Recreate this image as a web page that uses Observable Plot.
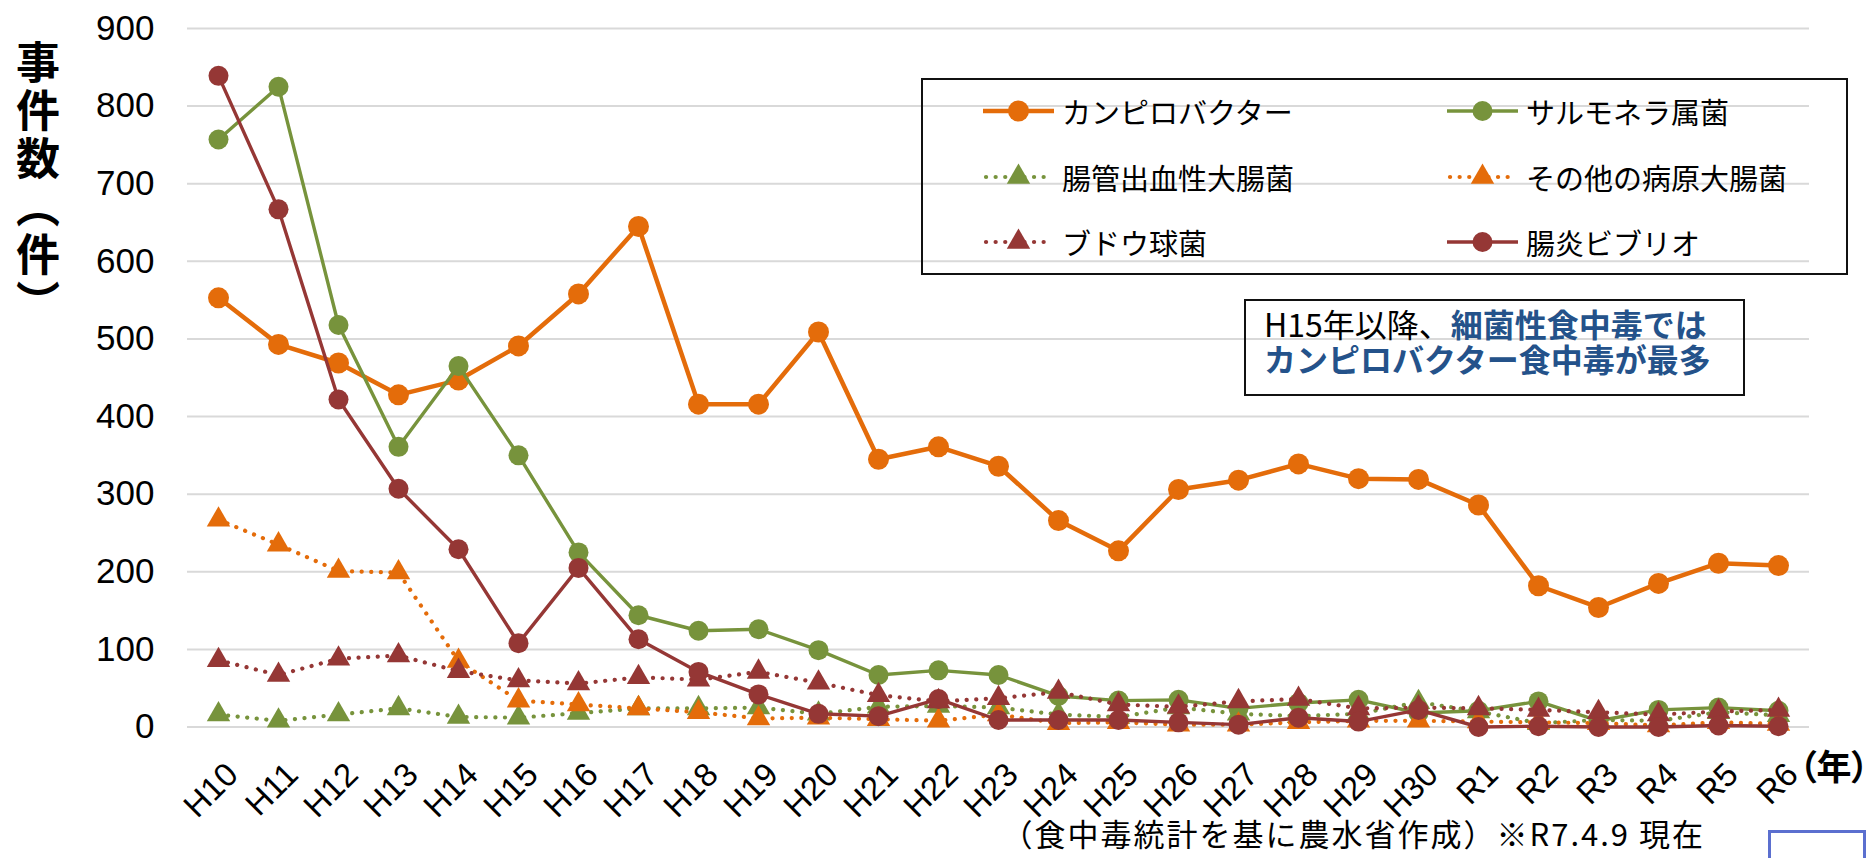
<!DOCTYPE html>
<html>
<head>
<meta charset="utf-8">
<script src="https://cdn.jsdelivr.net/npm/d3@7"></script>
<script src="https://cdn.jsdelivr.net/npm/@observablehq/plot@0.6"></script>
<style>
  html, body { margin: 0; padding: 0; background: #fff; }
  #wrap { position: relative; width: 1873px; height: 858px; overflow: hidden; font-family: "Noto Sans CJK JP", "Noto Sans", sans-serif; color: #000; }
  #chart { position: absolute; left: 0; top: 0; }
  .ytitle { position: absolute; left: 14px; top: 40px; writing-mode: vertical-rl; font-size: 44px; font-weight: bold; letter-spacing: 4px; line-height: 48px; }
  .legendbox { position: absolute; left: 921px; top: 78px; width: 927px; height: 197px; border: 2px solid #111; box-sizing: border-box; }
  .litem { position: absolute; height: 40px; display: flex; align-items: center; font-size: 29px; white-space: nowrap; }
  .litem svg { margin-right: 8px; }
  .note { position: absolute; left: 1244px; top: 299px; width: 501px; height: 97px; border: 2px solid #111; box-sizing: border-box; padding: 5px 0 0 18px; font-size: 32px; line-height: 35px; white-space: nowrap; }
  .note .blue { color: #24528a; font-weight: bold; }
  .caption { position: absolute; right: 168px; top: 815px; font-size: 31px; letter-spacing: 2px; line-height: 36px; white-space: nowrap; }
  .nen { position: absolute; left: 1799px; top: 745px; font-size: 35px; font-weight: bold; line-height: 40px; white-space: nowrap; font-feature-settings: "palt"; }
  .pagebox { position: absolute; left: 1768px; top: 830px; width: 98px; height: 60px; border: 3px solid #5b6fcf; box-sizing: border-box; }
</style>
</head>
<body>
<div id="wrap">
  <div id="chart"></div>
  <div class="ytitle">事件数（件）</div>
  <div class="legendbox"></div>
  <div id="legend"></div>
  <div class="note">H15年以降、<span class="blue">細菌性食中毒では</span><br><span class="blue">カンピロバクター食中毒が最多</span></div>
  <div class="nen">（年）</div>
  <div class="caption">（食中毒統計を基に農水省作成）※R7.4.9 現在</div>
  <div class="pagebox"></div>
</div>
<script>
// ---- data ----
const years = ["H10","H11","H12","H13","H14","H15","H16","H17","H18","H19","H20","H21","H22","H23","H24","H25","H26","H27","H28","H29","H30","R1","R2","R3","R4","R5","R6"];
const seriesNames = ["カンピロバクター","サルモネラ属菌","腸管出血性大腸菌","その他の病原大腸菌","ブドウ球菌","腸炎ビブリオ"];
const campylobacter = [553,493,469,428,447,491,558,645,416,416,509,345,361,336,266,227,306,318,339,320,319,286,182,154,185,211,208];
const salmonella    = [757,825,518,361,465,350,225,144,124,126,99,67,73,67,40,34,35,24,31,35,18,21,33,8,22,25,21];
const ehec          = [16,8,16,24,13,12,18,24,24,25,17,26,27,25,16,13,25,17,14,17,32,20,5,9,8,19,15];
const otherEcoli    = [267,235,201,199,85,34,29,24,19,11,12,10,8,16,5,6,3,3,6,8,8,7,6,5,2,6,4];
const staph         = [86,67,88,92,72,60,56,64,61,71,57,41,33,37,45,29,26,33,36,24,25,24,22,19,16,20,22];
const vibrio        = [839,667,422,307,229,108,205,113,71,42,17,14,36,9,9,9,6,3,12,7,22,0,1,0,0,2,1];
const yTicks = [0,100,200,300,400,500,600,700,800,900];

// ---- styles (drawing order = legend order) ----
const seriesValues = [campylobacter, salmonella, ehec, otherEcoli, staph, vibrio];
const styles = [
  {color: "#E46C0A", symbol: "circle",   dotted: false, sw: 4.5, r: 10.5},
  {color: "#77933C", symbol: "circle",   dotted: false, sw: 3.4, r: 10},
  {color: "#77933C", symbol: "triangle", dotted: true,  sw: 4.2, r: 8.7},
  {color: "#E46C0A", symbol: "triangle", dotted: true,  sw: 4.2, r: 8.7},
  {color: "#953735", symbol: "triangle", dotted: true,  sw: 4.2, r: 8.7},
  {color: "#953735", symbol: "circle",   dotted: false, sw: 3.4, r: 10}
];

const seriesMarks = seriesNames.flatMap((name, k) => {
  const st = styles[k];
  const data = years.map((y, i) => ({year: y, value: seriesValues[k][i], series: name}));
  return [
    Plot.line(data, {x: "year", y: "value", stroke: st.color, strokeWidth: st.sw,
      strokeDasharray: st.dotted ? "0.1 9.5" : null, strokeLinecap: "round", strokeLinejoin: "round"}),
    Plot.dot(data, {x: "year", y: "value", symbol: st.symbol, fill: st.color, r: st.r})
  ];
});

const chart = Plot.plot({
  width: 1873,
  height: 858,
  marginLeft: 187,
  marginRight: 64,
  marginTop: 28,
  marginBottom: 131.5,
  style: {fontFamily: "'Liberation Sans', Arial, sans-serif", background: "transparent", color: "#000", overflow: "visible"},
  x: {type: "point", domain: years, padding: 0.5},
  y: {domain: [0, 900]},
  marks: [
    Plot.gridY(yTicks, {stroke: "#d9d9d9", strokeOpacity: 1, strokeWidth: 2}),
    Plot.axisY(yTicks, {tickSize: 0, tickPadding: 33, fontSize: 35, label: null, tickFormat: d => String(d)}),
    Plot.axisX({tickRotate: -45, tickSize: 0, tickPadding: 42, dx: 14, fontSize: 33, label: null}),
    ...seriesMarks
  ]
});
document.getElementById("chart").appendChild(chart);

// ---- legend ----
const legendPos = [
  {x: 983, y: 111}, {x: 1447, y: 111},
  {x: 983, y: 177}, {x: 1447, y: 177},
  {x: 983, y: 242}, {x: 1447, y: 242}
];
const legend = document.getElementById("legend");
seriesNames.forEach((name, k) => {
  const st = styles[k];
  const item = document.createElement("div");
  item.className = "litem";
  item.style.left = legendPos[k].x + "px";
  item.style.top = (legendPos[k].y - 20) + "px";
  const svg = d3.create("svg").attr("width", 71).attr("height", 40);
  svg.append("line").attr("x1", st.dotted ? 3 : 0).attr("x2", st.dotted ? 68 : 71).attr("y1", 20).attr("y2", 20)
    .attr("stroke", st.color).attr("stroke-width", st.sw).attr("stroke-linecap", st.dotted ? "round" : "butt")
    .attr("stroke-dasharray", st.dotted ? "0.1 9.5" : null);
  const sym = st.symbol === "circle" ? d3.symbolCircle : d3.symbolTriangle;
  svg.append("path").attr("d", d3.symbol(sym, Math.PI * st.r * st.r)())
    .attr("transform", "translate(35.5,20)").attr("fill", st.color);
  item.appendChild(svg.node());
  const t = document.createElement("span");
  t.textContent = name;
  item.appendChild(t);
  legend.appendChild(item);
});
</script>
</body>
</html>
